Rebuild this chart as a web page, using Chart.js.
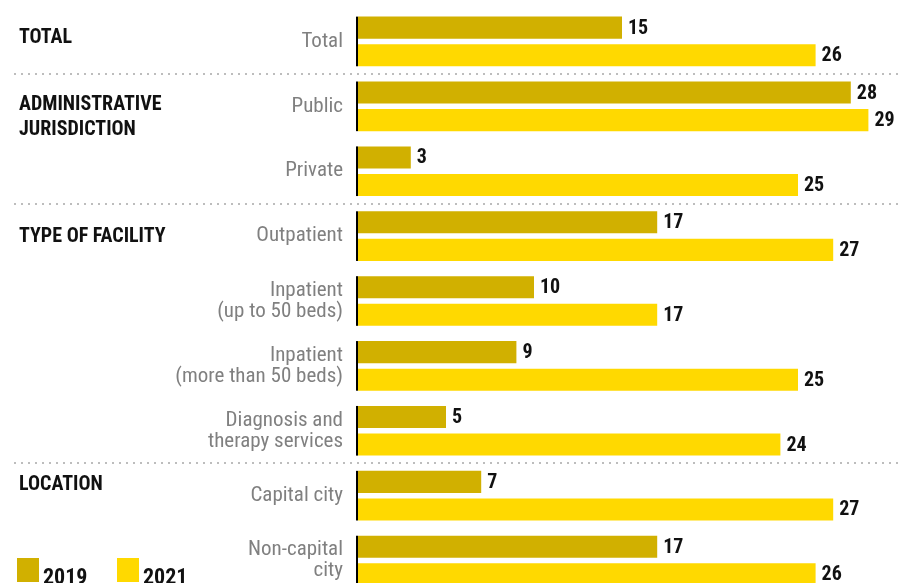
<!DOCTYPE html>
<html>
<head>
<meta charset="utf-8">
<script src="https://cdn.jsdelivr.net/npm/chart.js@4.4.1/dist/chart.umd.min.js"></script>
<style>
  html, body { margin: 0; padding: 0; background: #fff; overflow: hidden; }
  #wrap { position: relative; width: 901px; height: 593px; }
</style>
</head>
<body>
<div id="wrap"><canvas id="c"></canvas></div>
<script>
// ---- data ----
const categories = [
  ["Total"],
  ["Public"],
  ["Private"],
  ["Outpatient"],
  ["Inpatient", "(up to 50 beds)"],
  ["Inpatient", "(more than 50 beds)"],
  ["Diagnosis and", "therapy services"],
  ["Capital city"],
  ["Non-capital", "city"]
];
const values2019 = [15, 28, 3, 17, 10, 9, 5, 7, 17];
const values2021 = [26, 29, 25, 27, 17, 25, 24, 27, 26];
const seriesNames = ["2019", "2021"];
const groupNames = [["TOTAL"], ["ADMINISTRATIVE", "JURISDICTION"], ["TYPE OF FACILITY"], ["LOCATION"]];
const groupStartRows = [0, 1, 3, 7];

// ---- style ----
const FONT = '"Roboto Condensed", "Liberation Sans Narrow", "DejaVu Sans Condensed", sans-serif';
const COL2019 = '#D1B000';
const COL2021 = '#FFD900';
const headerOffsets = [1.6, 3.7, 5.5, -5.5];

const groupPlugin = {
  id: 'groups',
  beforeDatasetsDraw(chart) {
    const ctx = chart.ctx;
    const y = chart.scales.y;
    ctx.save();
    ctx.fillStyle = '#bdbdbd';
    groupStartRows.slice(1).forEach(r => {
      const py = Math.round((y.getPixelForValue(r - 1) + y.getPixelForValue(r)) / 2);
      for (let x = 14; x < chart.width; x += 7) {
        ctx.fillRect(x, py - 1, 2, 2);
      }
    });
    ctx.fillStyle = '#111';
    ctx.font = 'bold 20px ' + FONT;
    ctx.textAlign = 'left';
    ctx.textBaseline = 'alphabetic';
    groupNames.forEach((lines, i) => {
      const base = y.getPixelForValue(groupStartRows[i]) + headerOffsets[i];
      lines.forEach((t, k) => ctx.fillText(t, 19, base + k * 25));
    });
    ctx.restore();
  },
  afterDatasetsDraw(chart) {
    const ctx = chart.ctx;
    ctx.save();
    ctx.fillStyle = '#111';
    ctx.font = 'bold 20px ' + FONT;
    ctx.textAlign = 'left';
    ctx.textBaseline = 'middle';
    chart.data.datasets.forEach((ds, di) => {
      const meta = chart.getDatasetMeta(di);
      meta.data.forEach((bar, i) => {
        ctx.fillText(String(ds.data[i]), bar.x + 6, bar.y + 1);
      });
    });
    const m0 = chart.getDatasetMeta(0), m1 = chart.getDatasetMeta(1);
    ctx.fillStyle = '#000';
    m0.data.forEach((b0, i) => {
      const b1 = m1.data[i];
      const top = b0.y - b0.height / 2;
      const bot = b1.y + b1.height / 2;
      ctx.fillRect(b0.base - 2, top, 2, bot - top);
    });
    ctx.font = 'bold 22px ' + FONT;
    ctx.textBaseline = 'alphabetic';
    let lx = 17;
    chart.data.datasets.forEach((ds) => {
      ctx.fillStyle = ds.backgroundColor;
      ctx.fillRect(lx, 558, 22, 24);
      ctx.fillStyle = '#111';
      ctx.fillText(ds.label, lx + 26, 584);
      lx += 100;
    });
    ctx.restore();
  }
};

new Chart(document.getElementById('c'), {
  type: 'bar',
  data: {
    labels: categories,
    datasets: [
      { label: seriesNames[0], data: values2019, backgroundColor: COL2019 },
      { label: seriesNames[1], data: values2021, backgroundColor: COL2021 }
    ]
  },
  options: {
    indexAxis: 'y',
    responsive: true,
    maintainAspectRatio: false,
    animation: false,
    categoryPercentage: 0.85,
    barPercentage: 0.8,
    layout: { padding: { left: 0, right: 15, top: 9, bottom: 0 } },
    plugins: { legend: { display: false }, tooltip: { enabled: false } },
    scales: {
      x: { display: false, min: 0, max: 30 },
      y: {
        grid: { display: false },
        border: { display: false },
        ticks: {
          color: '#808080',
          padding: 7,
          font: { family: FONT, size: 21, lineHeight: 1.0 }
        },
        afterFit(scale) {
          scale.width = 358;
          scale.paddingTop = 0;
          scale.paddingBottom = 0;
        }
      }
    }
  },
  plugins: [groupPlugin]
});
</script>
</body>
</html>
